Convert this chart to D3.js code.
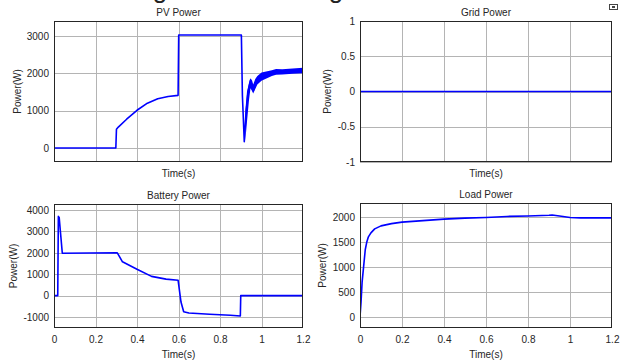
<!DOCTYPE html>
<html><head><meta charset="utf-8">
<script src="https://cdn.jsdelivr.net/npm/d3@7"></script>
<style>
body{margin:0;background:#fff;}
svg{display:block;font-family:"Liberation Sans",Arial,sans-serif;}
</style></head>
<body>
<svg id="c" width="623" height="364"></svg>
<script>
// ---- data ----
const xTicks = [0, 0.2, 0.4, 0.6, 0.8, 1, 1.2];
const xTickLabels = ["0", "0.2", "0.4", "0.6", "0.8", "1", "1.2"];

const pvT = [0, 0.298, 0.301, 0.31, 0.35, 0.40, 0.45, 0.50, 0.55, 0.598, 0.601, 0.903, 0.908, 0.917, 0.925, 0.935, 0.947, 0.96, 0.975, 1.0, 1.05, 1.07, 1.1, 1.15, 1.2];
const pvP = [0, 0, 500, 560, 770, 1010, 1200, 1320, 1380, 1410, 3030, 3030, 1400, 170, 900, 1500, 1820, 1530, 1750, 1900, 1990, 2030, 2030, 2050, 2060];
const pvBandT = [0.922, 0.93, 0.94, 0.947, 0.955, 0.96, 0.97, 0.98, 1.0, 1.05, 1.07, 1.1, 1.15, 1.2];
const pvBandHi = [1000, 1500, 1750, 1870, 1800, 1700, 1850, 1930, 2020, 2080, 2120, 2110, 2130, 2150];
const pvBandLo = [200, 700, 1300, 1600, 1520, 1460, 1580, 1700, 1800, 1930, 1960, 1970, 1990, 2000];

const gridT = [0, 1.2];
const gridP = [0, 0];

const batT = [0, 0.018, 0.021, 0.025, 0.04, 0.305, 0.33, 0.40, 0.47, 0.54, 0.598, 0.612, 0.625, 0.65, 0.75, 0.85, 0.898, 0.9, 1.2];
const batP = [0, 0, 3700, 3650, 1980, 2000, 1580, 1230, 900, 770, 720, -300, -750, -810, -870, -920, -950, 0, 0];

const loadT = [0, 0.005, 0.01, 0.017, 0.025, 0.032, 0.04, 0.052, 0.07, 0.1, 0.15, 0.2, 0.3, 0.4, 0.5, 0.6, 0.7, 0.8, 0.9, 0.915, 0.95, 1.0, 1.05, 1.2];
const loadP = [0, 300, 700, 1000, 1350, 1500, 1610, 1690, 1770, 1830, 1875, 1905, 1935, 1965, 1985, 2000, 2020, 2030, 2045, 2050, 2030, 2000, 1990, 1990];

const pvYTicks = [0, 1000, 2000, 3000];
const gridYTicks = [-1, -0.5, 0, 0.5, 1];
const batYTicks = [-1000, 0, 1000, 2000, 3000, 4000];
const loadYTicks = [0, 500, 1000, 1500, 2000];

const titles = ["PV Power", "Grid Power", "Battery Power", "Load Power"];

// ---- drawing ----
const svg = d3.select("#c");
const blue = "#0000ff";

// cut-off caption descenders at very top
svg.append("text").attr("x", 160).attr("y", -2).attr("text-anchor", "middle")
  .attr("font-size", 26).attr("fill", "#222").text("g");
svg.append("text").attr("x", 336).attr("y", -2).attr("text-anchor", "middle")
  .attr("font-size", 26).attr("fill", "#222").text("g");

// small icon top right
svg.append("rect").attr("x", 609).attr("y", 4).attr("width", 9).attr("height", 6).attr("fill", "#444");
svg.append("rect").attr("x", 610).attr("y", 5).attr("width", 7).attr("height", 4).attr("fill", "#fff");
svg.append("rect").attr("x", 612).attr("y", 6).attr("width", 3).attr("height", 2).attr("fill", "#444");

function panel(o) {
  const x = d3.scaleLinear().domain([0, 1.2]).range([o.x0, o.x1]);
  const y = d3.scaleLinear().domain(o.yDom).range([o.y1, o.y0]);
  const g = svg.append("g");
  // grid
  g.selectAll(".gx").data(xTicks.slice(1, -1)).join("line")
    .attr("x1", d => Math.round(x(d)) + 0.5).attr("x2", d => Math.round(x(d)) + 0.5)
    .attr("y1", o.y0).attr("y2", o.y1).attr("stroke", "#b4b4b4").attr("stroke-width", 1);
  g.selectAll(".gy").data(o.yTicks).join("line")
    .attr("x1", o.x0).attr("x2", o.x1)
    .attr("y1", d => Math.round(y(d)) + 0.5).attr("y2", d => Math.round(y(d)) + 0.5)
    .attr("stroke", "#b4b4b4").attr("stroke-width", 1);
  // y axis labels
  const ya = d3.axisLeft(y).tickValues(o.yTicks).tickSize(0).tickPadding(5)
    .tickFormat(d => String(d));
  const yg = g.append("g").attr("transform", `translate(${o.x0},0)`).call(ya);
  yg.select(".domain").remove();
  yg.selectAll("text").attr("font-size", 10).attr("fill", "#262626").attr("font-family", "Liberation Sans, Arial, sans-serif");
  if (o.xLabels) {
    const xa = d3.axisBottom(x).tickValues(xTicks).tickSize(0).tickPadding(8)
      .tickFormat((d, i) => xTickLabels[i]);
    const xg = g.append("g").attr("transform", `translate(0,${o.y1})`).call(xa);
    xg.select(".domain").remove();
    xg.selectAll("text").attr("font-size", 10).attr("fill", "#262626").attr("font-family", "Liberation Sans, Arial, sans-serif");
  }
  // clip
  const cid = "clip" + o.id;
  svg.append("clipPath").attr("id", cid).append("rect")
    .attr("x", o.x0).attr("y", o.y0).attr("width", o.x1 - o.x0).attr("height", o.y1 - o.y0);
  const pg = g.append("g").attr("clip-path", `url(#${cid})`);
  if (o.band) {
    const bd = o.band.t.map((t, i) => [t, o.band.lo[i], o.band.hi[i]]);
    pg.append("path").datum(bd)
      .attr("d", d3.area().x(d => x(d[0])).y0(d => y(d[1])).y1(d => y(d[2])))
      .attr("fill", blue);
  }
  const data = o.t.map((t, i) => [t, o.v[i]]);
  pg.append("path").datum(data)
    .attr("d", d3.line().x(d => x(d[0])).y(d => y(d[1])))
    .attr("fill", "none").attr("stroke", blue).attr("stroke-width", 1.6)
    .attr("stroke-linejoin", "round");
  // frame
  g.append("rect").attr("x", o.x0 + 0.5).attr("y", o.y0 + 0.5)
    .attr("width", o.x1 - o.x0 - 1).attr("height", o.y1 - o.y0 - 1)
    .attr("fill", "none").attr("stroke", "#262626").attr("stroke-width", 1);
  // title
  g.append("text").attr("x", (o.x0 + o.x1) / 2).attr("y", o.y0 - 5)
    .attr("text-anchor", "middle").attr("font-size", 10).attr("fill", "#262626").text(o.title);
  // x label
  g.append("text").attr("x", (o.x0 + o.x1) / 2).attr("y", o.xlY)
    .attr("text-anchor", "middle").attr("font-size", 10).attr("fill", "#262626").text("Time(s)");
  // y label
  g.append("text").attr("transform", `translate(${o.ylX},${(o.y0 + o.y1) / 2}) rotate(-90)`)
    .attr("text-anchor", "middle").attr("font-size", 10).attr("fill", "#262626").text("Power(W)");
}

panel({id: 1, x0: 54, x1: 303, y0: 21, y1: 162, yDom: [-377, 3404], yTicks: pvYTicks,
  t: pvT, v: pvP, band: {t: pvBandT, hi: pvBandHi, lo: pvBandLo},
  title: titles[0], xLabels: false, xlY: 177, ylX: 21});
panel({id: 2, x0: 360, x1: 612, y0: 21, y1: 162, yDom: [-1, 1], yTicks: gridYTicks,
  t: gridT, v: gridP, title: titles[1], xLabels: false, xlY: 177, ylX: 331});
panel({id: 3, x0: 54, x1: 303, y0: 204, y1: 328, yDom: [-1512, 4280], yTicks: batYTicks,
  t: batT, v: batP, title: titles[2], xLabels: true, xlY: 358, ylX: 17});
panel({id: 4, x0: 360, x1: 612, y0: 203, y1: 328, yDom: [-223, 2290], yTicks: loadYTicks,
  t: loadT, v: loadP, title: titles[3], xLabels: true, xlY: 358, ylX: 326});
</script>
</body></html>
